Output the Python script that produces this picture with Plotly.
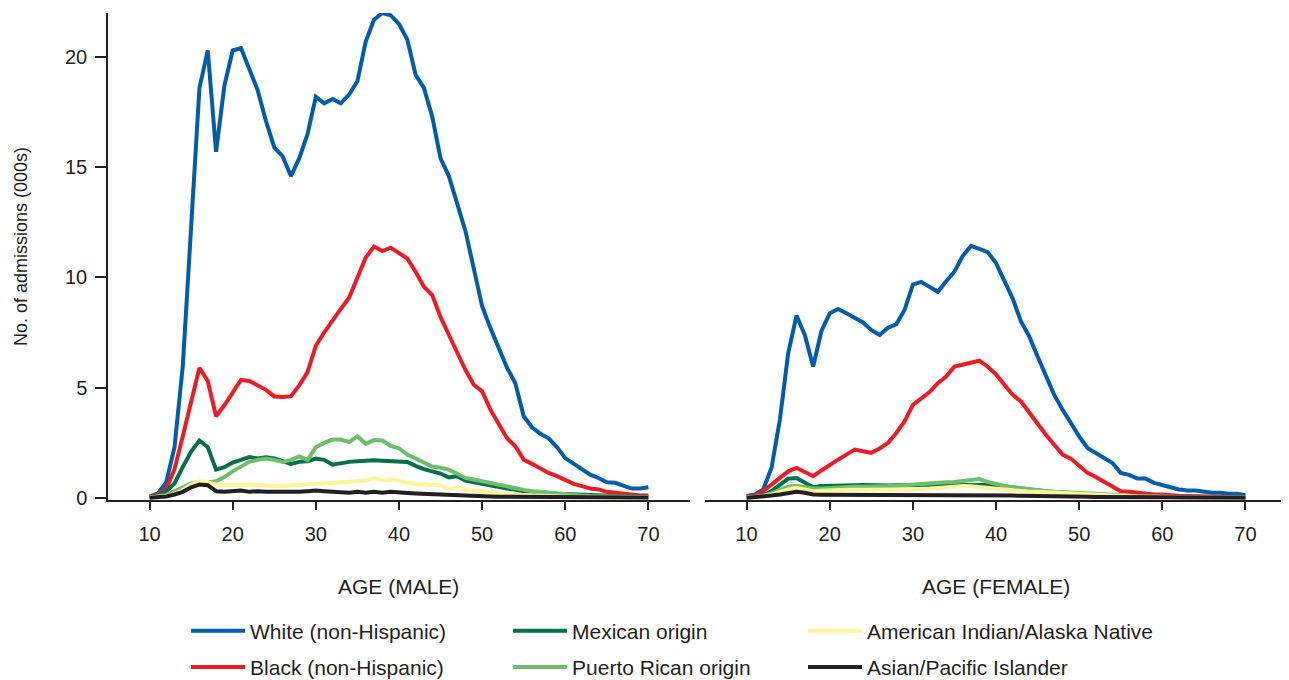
import plotly.graph_objects as go
from plotly.subplots import make_subplots

# ages 10..70, one point per year
ages = list(range(10, 71))

# admissions (000s), male
male_white = [0.05, 0.2, 0.7, 2.3, 6.0, 12.7, 18.6, 20.3, 15.7, 18.7,
              20.3, 20.4, 19.5, 18.5, 17.1, 15.9, 15.5, 14.6, 15.4, 16.5,
              18.2, 17.9, 18.1, 17.9, 18.3, 18.9, 20.7, 21.7, 22.0, 21.9,
              21.5, 20.8, 19.2, 18.6, 17.3, 15.4, 14.6, 13.3, 12.1, 10.4,
              8.7, 7.7, 6.8, 5.9, 5.2, 3.7, 3.2, 2.9, 2.7, 2.3,
              1.8, 1.55, 1.3, 1.05, 0.9, 0.7, 0.68, 0.53, 0.42, 0.42, 0.48]
male_black = [0.05, 0.15, 0.4, 1.3, 2.8, 4.3, 5.9, 5.3, 3.7, 4.2,
              4.8, 5.35, 5.3, 5.1, 4.9, 4.6, 4.57, 4.6, 5.1, 5.7,
              6.9, 7.5, 8.07, 8.57, 9.08, 9.95, 10.9, 11.4, 11.2, 11.35,
              11.1, 10.86, 10.26, 9.58, 9.2, 8.2, 7.4, 6.56, 5.8, 5.13,
              4.83, 4.0, 3.39, 2.7, 2.34, 1.73, 1.54, 1.33, 1.13, 0.98,
              0.78, 0.63, 0.53, 0.42, 0.38, 0.27, 0.23, 0.18, 0.14, 0.1, 0.1]
male_mexican = [0.03, 0.1, 0.3, 0.65, 1.4, 2.1, 2.6, 2.3, 1.28, 1.39,
                1.6, 1.72, 1.85, 1.78, 1.84, 1.78, 1.66, 1.54, 1.63, 1.66,
                1.78, 1.72, 1.5, 1.57, 1.63, 1.66, 1.7, 1.7, 1.68, 1.66,
                1.68, 1.63, 1.45, 1.3, 1.2, 1.1, 0.92, 0.98, 0.78, 0.7,
                0.63, 0.57, 0.48, 0.42, 0.38, 0.3, 0.27, 0.23, 0.22, 0.18,
                0.17, 0.15, 0.13, 0.12, 0.1, 0.09, 0.08, 0.07, 0.06, 0.05, 0.05]
male_puerto_rican = [0.02, 0.05, 0.12, 0.3, 0.5, 0.65, 0.72, 0.7, 0.75, 0.94,
                     1.2, 1.43, 1.63, 1.72, 1.78, 1.72, 1.63, 1.72, 1.88, 1.72,
                     2.29, 2.49, 2.64, 2.64, 2.53, 2.79, 2.45, 2.62, 2.6, 2.35,
                     2.25, 1.96, 1.78, 1.63, 1.42, 1.36, 1.28, 1.09, 0.9, 0.83,
                     0.75, 0.68, 0.57, 0.48, 0.42, 0.36, 0.3, 0.26, 0.23, 0.18,
                     0.15, 0.12, 0.1, 0.08, 0.07, 0.06, 0.05, 0.04, 0.03, 0.03, 0.02]
male_am_indian = [0.01, 0.03, 0.08, 0.18, 0.35, 0.6, 0.75, 0.72, 0.6, 0.58,
                  0.57, 0.58, 0.6, 0.57, 0.53, 0.54, 0.53, 0.55, 0.57, 0.6,
                  0.63, 0.65, 0.68, 0.7, 0.72, 0.75, 0.78, 0.9, 0.8, 0.83,
                  0.78, 0.68, 0.63, 0.6, 0.6, 0.57, 0.38, 0.48, 0.38, 0.33,
                  0.3, 0.25, 0.2, 0.17, 0.14, 0.12, 0.1, 0.08, 0.07, 0.06,
                  0.05, 0.04, 0.04, 0.04, 0.03, 0.03, 0.03, 0.02, 0.02, 0.02, 0.02]
male_asian = [0.0, 0.02, 0.06, 0.15, 0.27, 0.48, 0.6, 0.57, 0.3, 0.27,
              0.3, 0.33, 0.27, 0.3, 0.27, 0.27, 0.23, 0.27, 0.27, 0.3,
              0.33, 0.3, 0.27, 0.27, 0.23, 0.27, 0.23, 0.27, 0.23, 0.27,
              0.23, 0.22, 0.2, 0.18, 0.16, 0.14, 0.12, 0.1, 0.09, 0.08,
              0.07, 0.06, 0.05, 0.05, 0.04, 0.04, 0.03, 0.03, 0.03, 0.02,
              0.02, 0.02, 0.02, 0.01, 0.01, 0.01, 0.01, 0.01, 0.01, 0.01, 0.01]

# admissions (000s), female
female_white = [0.08, 0.15, 0.38, 1.36, 3.54, 6.56, 8.27, 7.39, 5.96, 7.57,
                8.37, 8.57, 8.37, 8.14, 7.96, 7.62, 7.39, 7.72, 7.87, 8.52,
                9.68, 9.8, 9.58, 9.35, 9.83, 10.26, 10.98, 11.43, 11.3, 11.15,
                10.65, 9.8, 9.05, 8.0, 7.32, 6.41, 5.58, 4.67, 4.0, 3.39,
                2.79, 2.26, 2.04, 1.81, 1.58, 1.13, 1.04, 0.87, 0.87, 0.68,
                0.6, 0.48, 0.38, 0.33, 0.33, 0.27, 0.23, 0.23, 0.18, 0.18, 0.12]
female_black = [0.05, 0.1, 0.3, 0.6, 0.94, 1.2, 1.36, 1.18, 0.98, 1.24,
                1.5, 1.73, 1.96, 2.19, 2.11, 2.04, 2.24, 2.49, 2.94, 3.47,
                4.22, 4.52, 4.8, 5.2, 5.5, 5.96, 6.06, 6.16, 6.22, 5.95,
                5.6, 5.13, 4.67, 4.37, 3.85, 3.39, 2.86, 2.41, 1.96, 1.78,
                1.43, 1.13, 0.94, 0.72, 0.48, 0.3, 0.27, 0.23, 0.18, 0.15,
                0.15, 0.1, 0.09, 0.08, 0.07, 0.06, 0.05, 0.05, 0.04, 0.04, 0.03]
female_mexican = [0.02, 0.05, 0.12, 0.3, 0.6, 0.87, 0.9, 0.68, 0.48, 0.53,
                  0.55, 0.57, 0.58, 0.57, 0.58, 0.56, 0.55, 0.56, 0.57, 0.57,
                  0.58, 0.58, 0.6, 0.6, 0.6, 0.6, 0.6, 0.6, 0.6, 0.58,
                  0.55, 0.5, 0.46, 0.42, 0.38, 0.34, 0.3, 0.26, 0.22, 0.18,
                  0.15, 0.12, 0.1, 0.08, 0.07, 0.06, 0.05, 0.04, 0.04, 0.03,
                  0.03, 0.02, 0.02, 0.02, 0.02, 0.01, 0.01, 0.01, 0.01, 0.01, 0.01]
female_puerto_rican = [0.01, 0.03, 0.08, 0.2, 0.35, 0.5, 0.55, 0.5, 0.42, 0.42,
                       0.45, 0.47, 0.48, 0.5, 0.5, 0.5, 0.52, 0.53, 0.55, 0.58,
                       0.62, 0.65, 0.68, 0.7, 0.7, 0.72, 0.75, 0.78, 0.85, 0.72,
                       0.62, 0.55, 0.48, 0.43, 0.38, 0.34, 0.3, 0.28, 0.27, 0.25,
                       0.23, 0.2, 0.18, 0.15, 0.12, 0.1, 0.08, 0.07, 0.06, 0.05,
                       0.05, 0.04, 0.04, 0.03, 0.03, 0.03, 0.02, 0.02, 0.02, 0.02, 0.02]
female_am_indian = [0.01, 0.03, 0.07, 0.15, 0.27, 0.38, 0.45, 0.38, 0.3, 0.32,
                    0.35, 0.36, 0.37, 0.37, 0.38, 0.38, 0.38, 0.38, 0.38, 0.38,
                    0.38, 0.4, 0.42, 0.45, 0.48, 0.52, 0.53, 0.52, 0.48, 0.45,
                    0.42, 0.38, 0.35, 0.3, 0.27, 0.27, 0.27, 0.24, 0.22, 0.2,
                    0.18, 0.15, 0.13, 0.1, 0.09, 0.08, 0.06, 0.05, 0.05, 0.04,
                    0.04, 0.03, 0.03, 0.03, 0.02, 0.02, 0.02, 0.02, 0.01, 0.01, 0.01]
female_asian = [0.0, 0.02, 0.05, 0.1, 0.15, 0.22, 0.27, 0.23, 0.15, 0.14,
                0.14, 0.14, 0.14, 0.14, 0.14, 0.14, 0.14, 0.14, 0.14, 0.14,
                0.14, 0.14, 0.14, 0.14, 0.14, 0.14, 0.14, 0.14, 0.14, 0.13,
                0.12, 0.11, 0.1, 0.09, 0.09, 0.08, 0.07, 0.07, 0.06, 0.06,
                0.05, 0.05, 0.04, 0.04, 0.04, 0.03, 0.03, 0.03, 0.02, 0.02,
                0.02, 0.02, 0.02, 0.01, 0.01, 0.01, 0.01, 0.01, 0.01, 0.01, 0.01]

y_ticks = [0, 5, 10, 15, 20]
x_ticks = [10, 20, 30, 40, 50, 60, 70]

FONT = "Liberation Sans, Arial, Helvetica, sans-serif"
INK = "#231F20"

# name, colour, male, female, legend column
series = [
    ("White (non-Hispanic)", "#005DAA", male_white, female_white, "legend"),
    ("Black (non-Hispanic)", "#ED1C24", male_black, female_black, "legend"),
    ("Mexican origin", "#00704A", male_mexican, female_mexican, "legend2"),
    ("Puerto Rican origin", "#6DBE6A", male_puerto_rican, female_puerto_rican, "legend2"),
    ("American Indian/Alaska Native", "#FFF59D", male_am_indian, female_am_indian, "legend3"),
    ("Asian/Pacific Islander", INK, male_asian, female_asian, "legend3"),
]

fig = make_subplots(rows=1, cols=2, horizontal_spacing=0.0128)

for name, color, male, female, leg in series:
    fig.add_trace(go.Scatter(x=ages, y=male, mode="lines", name=name,
                             line=dict(color=color, width=4),
                             legend=leg, legendgroup=name), row=1, col=1)
    fig.add_trace(go.Scatter(x=ages, y=female, mode="lines", name=name,
                             line=dict(color=color, width=4),
                             legendgroup=name, showlegend=False), row=1, col=2)

fig.update_xaxes(range=[5, 75], tickvals=x_ticks, ticks="outside", ticklen=8,
                 tickwidth=1.5, tickcolor=INK, showline=True, linecolor=INK,
                 linewidth=1.5, showgrid=False, zeroline=False,
                 tickfont=dict(size=20, color=INK, family=FONT),
                 ticklabelstandoff=7)

fig.update_yaxes(range=[-0.1, 22], showgrid=False, zeroline=False)
fig.update_yaxes(tickvals=y_ticks, ticks="outside", ticklen=11, tickwidth=1.5,
                 tickcolor=INK, showline=True, linecolor=INK, linewidth=1.5,
                 tickfont=dict(size=20, color=INK, family=FONT),
                 ticklabelstandoff=4, row=1, col=1)
fig.update_yaxes(showticklabels=False, showline=False, ticks="", matches="y",
                 row=1, col=2)

legend_common = dict(orientation="v", xanchor="left", yanchor="middle",
                     y=-0.306, bgcolor="rgba(0,0,0,0)", itemwidth=54,
                     tracegroupgap=6, font=dict(size=21, color=INK, family=FONT))
fig.update_layout(
    width=1281, height=700,
    margin=dict(l=100, r=2, t=5, b=208),
    paper_bgcolor="white", plot_bgcolor="white",
    font=dict(family=FONT, color=INK),
    legend=dict(x=0.0662, **legend_common),
    legend2=dict(x=0.3393, **legend_common),
    legend3=dict(x=0.5895, **legend_common),
    annotations=[
        dict(text="AGE (MALE)", x=40, xref="x", y=-0.1786, yref="paper",
             xanchor="center", yanchor="middle", showarrow=False,
             font=dict(size=21, color=INK)),
        dict(text="AGE (FEMALE)", x=40, xref="x2", y=-0.1786, yref="paper",
             xanchor="center", yanchor="middle", showarrow=False,
             font=dict(size=21, color=INK)),
        dict(text="No. of admissions (000s)", textangle=-90, x=-0.0738,
             xref="paper", y=0.5216, yref="paper", xanchor="center",
             yanchor="middle", showarrow=False, font=dict(size=18, color=INK)),
    ],
)

fig.write_html("out.html")
